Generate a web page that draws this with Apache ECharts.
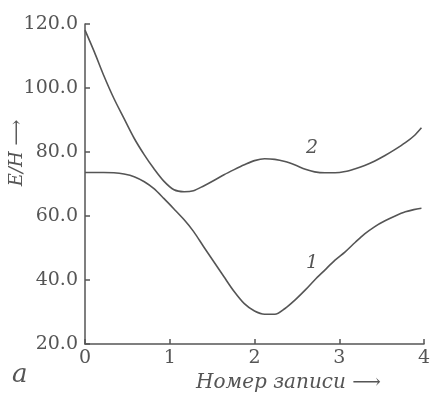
<!DOCTYPE html>
<html><head><meta charset="utf-8">
<script src="https://cdn.jsdelivr.net/npm/echarts@6/dist/echarts.min.js"></script>
<style>html,body{margin:0;padding:0;background:#fff}#c{width:431px;height:395px}</style>
</head><body><div id="c"></div>
<script>
const xTicks = [0, 1, 2, 3, 4];
const yTicks = [20, 40, 60, 80, 100, 120];
const curve1X = [0, 0.11, 0.22, 0.34, 0.46, 0.58, 0.70, 0.81, 0.93, 1.05, 1.17, 1.28, 1.40, 1.52, 1.64, 1.76, 1.88, 2.00, 2.12, 2.24, 2.36, 2.48, 2.60, 2.71, 2.83, 2.95, 3.07, 3.19, 3.30, 3.42, 3.54, 3.66, 3.78, 3.88, 3.97];
const curve1Y = [73.6, 73.6, 73.6, 73.5, 73.1, 72.3, 70.7, 68.6, 65.5, 62.2, 58.8, 55.2, 50.4, 45.7, 41.0, 36.4, 32.6, 30.3, 29.3, 29.3, 31.1, 33.8, 36.9, 40.0, 43.1, 46.2, 48.8, 51.8, 54.4, 56.7, 58.5, 60.0, 61.3, 62.0, 62.4];
const curve2X = [0, 0.11, 0.22, 0.34, 0.46, 0.58, 0.70, 0.81, 0.93, 1.05, 1.17, 1.28, 1.40, 1.52, 1.64, 1.76, 1.88, 2.00, 2.12, 2.24, 2.36, 2.48, 2.60, 2.71, 2.83, 2.95, 3.07, 3.19, 3.30, 3.42, 3.54, 3.66, 3.78, 3.88, 3.97];
const curve2Y = [118.1, 111.3, 104.0, 96.8, 90.5, 84.3, 79.1, 74.9, 70.9, 68.2, 67.6, 67.9, 69.4, 71.1, 72.9, 74.5, 76.0, 77.3, 77.9, 77.7, 77.0, 75.9, 74.6, 73.8, 73.5, 73.5, 73.9, 74.8, 75.8, 77.2, 78.9, 80.8, 82.9, 85.0, 87.6];
const labels = [{name: '1', x: 2.68, y: 45.3}, {name: '2', x: 2.68, y: 81.2}];

const col = '#555';
const font = 'DejaVu Serif, Liberation Serif, serif';
const zip = (xs, ys) => xs.map((x, i) => [x, ys[i]]);
const mkLabel = l => ({
  symbol: 'circle', symbolSize: 1, itemStyle: {color: 'rgba(0,0,0,0)'},
  data: [{coord: [l.x, l.y]}],
  label: {show: true, position: 'inside', formatter: l.name, color: col, fontFamily: font, fontSize: 19, fontStyle: 'italic'}
});

const chart = echarts.init(document.getElementById('c'));
chart.setOption({
  animation: false,
  grid: {left: 85, right: 7, top: 24, bottom: 51, outerBoundsMode: 'none', containLabel: false},
  xAxis: {
    type: 'value', min: xTicks[0], max: xTicks[xTicks.length - 1], interval: 1,
    axisLine: {lineStyle: {color: col, width: 1.5}},
    axisTick: {inside: true, length: 5, lineStyle: {color: col, width: 1.5}},
    splitLine: {show: false},
    axisLabel: {color: col, fontFamily: font, fontSize: 19, margin: 5},
    name: 'Номер записи ⟶', nameLocation: 'middle', nameGap: 26,
    nameTextStyle: {color: col, fontFamily: font, fontSize: 20, fontStyle: 'italic', padding: [0, 0, 0, 68]}
  },
  yAxis: {
    type: 'value', min: yTicks[0], max: yTicks[yTicks.length - 1], interval: 20,
    axisLine: {show: true, lineStyle: {color: col, width: 1.5}},
    axisTick: {show: true, inside: true, length: 5, lineStyle: {color: col, width: 1.5}},
    splitLine: {show: false},
    axisLabel: {color: col, fontFamily: font, fontSize: 19, margin: 7, formatter: v => v.toFixed(1)}
  },
  series: [
    {type: 'line', data: zip(curve1X, curve1Y), smooth: 0.3, symbol: 'none',
     lineStyle: {color: col, width: 1.6}, markPoint: mkLabel(labels[0])},
    {type: 'line', data: zip(curve2X, curve2Y), smooth: 0.3, symbol: 'none',
     lineStyle: {color: col, width: 1.6}, markPoint: mkLabel(labels[1])}
  ],
  graphic: [
    {type: 'text', x: 17, y: 153, rotation: Math.PI / 2,
     style: {text: 'E/H ⟶', fill: col, font: 'italic 18px ' + font, align: 'center', verticalAlign: 'middle'}},
    {type: 'text', left: 12, top: 362, style: {text: 'a', fill: col, font: 'italic 26px ' + font}}
  ]
});
</script></body></html>
